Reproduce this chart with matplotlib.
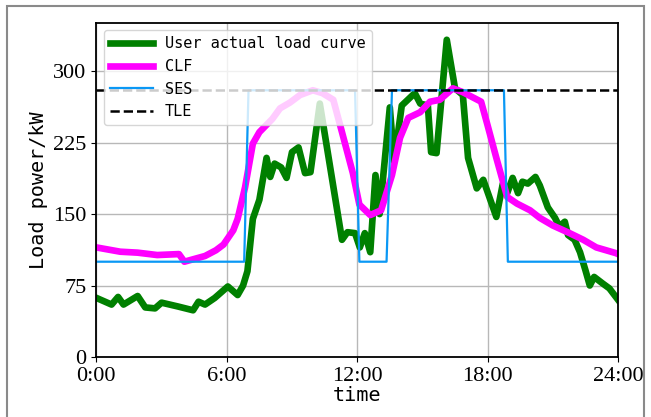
import matplotlib
matplotlib.use('Agg')
import matplotlib.pyplot as plt
from matplotlib.patches import Rectangle

# user actual load curve (hour, kW)
load_t = [0, 0.7, 1.0, 1.25, 1.9, 2.25, 2.7, 3.0, 3.75, 4.45, 4.7, 5.0, 5.45, 6.05,
          6.5, 6.75, 6.95, 7.2, 7.5, 7.83, 8.0, 8.2, 8.5, 8.75, 9.0, 9.3, 9.6, 9.85,
          10.28, 11.3, 11.55, 11.9, 12.12, 12.35, 12.6, 12.84, 13.03, 13.5, 13.7,
          14.05, 14.65, 14.9, 15.25, 15.4, 15.65, 16.12, 16.5, 16.86, 17.1, 17.5,
          17.8, 18.0, 18.4, 18.7, 18.9, 19.15, 19.4, 19.6, 19.85, 20.2, 20.4, 20.77,
          21.1, 21.3, 21.55, 21.7, 22.0, 22.25, 22.5, 22.7, 22.9, 23.3, 23.6, 24.0]
load_v = [62, 55, 63, 55, 64, 52, 51, 57, 53, 49, 58, 55, 62, 74,
          65, 75, 90, 145, 165, 209, 189, 203, 199, 188, 215, 220, 193, 194,
          266, 123, 131, 130, 115, 130, 110, 191, 150, 262, 205,
          264, 277, 266, 264, 215, 214, 333, 282, 275, 209, 177,
          186, 173, 147, 182, 172, 188, 172, 184, 182, 189, 180, 157,
          146, 137, 142, 128, 123, 110, 91, 75, 84, 77, 72, 60]

# CLF
clf_t = [0, 1.1, 1.9, 2.8, 3.8, 4.05, 5.0, 5.5, 5.85, 6.3, 6.5, 6.84, 7.2, 7.5,
         8.1, 8.45, 8.9, 9.37, 9.96, 10.4, 10.9, 11.3, 11.8, 12.1, 12.6, 13.1,
         13.6, 13.97, 14.35, 14.9, 15.35, 15.8, 16.4, 16.86, 17.7, 18.0, 18.4,
         18.9, 19.35, 19.95, 20.4, 21.0, 21.77, 22.4, 23.0, 23.9, 24.0]
clf_v = [115, 110.5, 109.5, 107, 108, 100, 106, 112, 118, 133, 145, 178, 224, 236,
         250, 261, 267, 275, 280, 277, 270, 236, 193, 160, 149, 154,
         191, 230, 251, 257, 268, 270, 282, 278, 268, 243, 209,
         168, 161, 154, 146, 138, 130, 123, 115, 109, 108]

# SES
ses_t = [0, 6.8, 7.0, 11.9, 12.1, 13.35, 13.6, 18.75, 18.93, 24]
ses_v = [100, 100, 280, 280, 100, 100, 280, 280, 100, 100]

# TLE
tle_t = [0, 24]
tle_v = [280, 280]

xticks = [0, 6, 12, 18, 24]
xlabels = ['0:00', '6:00', '12:00', '18:00', '24:00']
yticks = [0, 75, 150, 225, 300]


def main():
  fig = plt.figure(figsize = (6.51, 4.17), dpi = 100)
  ax = fig.add_axes([0.148, 0.144, 0.8014, 0.8017])
  ax.plot(load_t, load_v, color = 'green', lw = 4.8, label = 'User actual load curve')
  ax.plot(clf_t, clf_v, color = '#ff00ff', lw = 4.8, label = 'CLF')
  ax.plot(ses_t, ses_v, color = '#0a98f5', lw = 1.6, label = 'SES')
  ax.plot(tle_t, tle_v, color = 'black', lw = 1.8, ls = '--', label = 'TLE')

  ax.set_xlim(0, 24)
  ax.set_ylim(0, 351)
  ax.set_xticks(xticks)
  ax.set_xticklabels(xlabels)
  ax.set_yticks(yticks)
  for lab in ax.get_xticklabels() + ax.get_yticklabels():
    lab.set_family('Liberation Serif')
    lab.set_fontsize(16)
  ax.grid(True, color = '#b8b8b8', lw = 1.0)
  for s in ax.spines.values():
    s.set_linewidth(1.3)

  ax.set_xlabel('time', family = 'DejaVu Sans Mono', fontsize = 14.5, labelpad = 0)
  ax.set_ylabel('Load power/kW', family = 'DejaVu Sans Mono', fontsize = 14.5, labelpad = 4)

  ax.legend(loc = 'upper left', prop = {'family': 'DejaVu Sans Mono', 'size': 11},
            handlelength = 2.8, borderaxespad = 0.5)

  # screenshot border
  fig.patches.append(Rectangle((7 / 651.0, -0.05), 637 / 651.0, 1.0 - 6 / 417.0 + 0.05,
                               transform = fig.transFigure, fill = False,
                               edgecolor = '#8a8a8a', lw = 1.5))
  fig.savefig('out.png', dpi = 100)


if __name__ == "__main__":
  main()
